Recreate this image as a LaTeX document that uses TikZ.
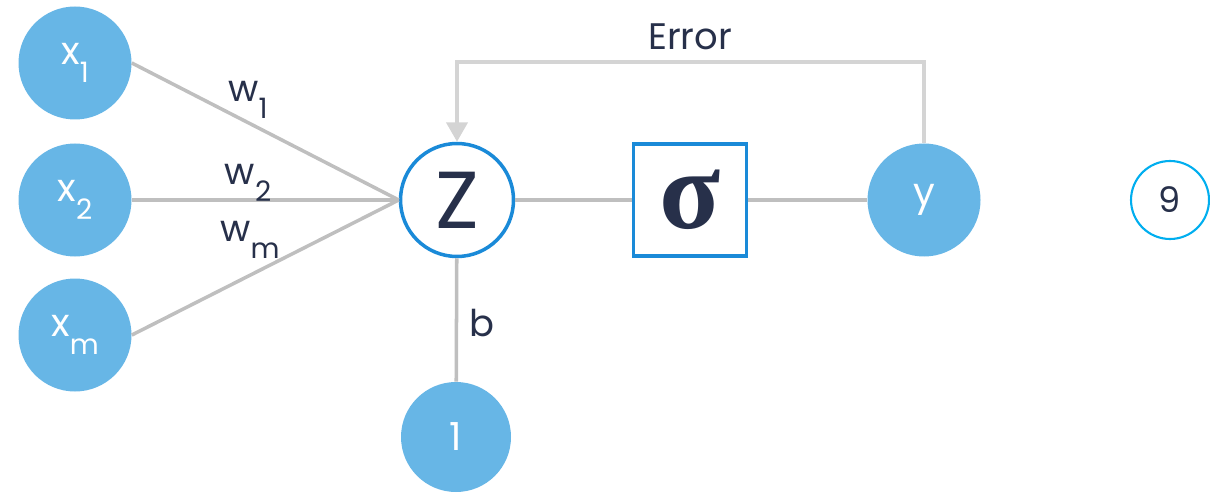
\documentclass[tikz,border=0pt]{standalone}
\usepackage{fontspec}
\setmainfont{Poppins}
\newfontfamily\greekserif{Liberation Serif}
\usepackage{xcolor}
\usepackage{tikz}
\usetikzlibrary{arrows.meta,shapes,calc}

\definecolor{neuron}{HTML}{67B6E6}
\definecolor{ink}{HTML}{27304A}
\definecolor{rim}{HTML}{1A8AD8}
\definecolor{wire}{HTML}{BFBFBF}
\definecolor{loopgray}{HTML}{D4D4D4}
\definecolor{pagenum}{HTML}{00AEEF}

\newcommand{\lowidx}[1]{\raisebox{-0.45em}{\fontsize{16}{16}\selectfont #1}}

\tikzstyle{unit}=[circle, fill=neuron, text=white,% filled input/output cells
minimum size=22.6mm, inner sep=0pt, font=\fontsize{22}{24}\selectfont]
\tikzstyle{sumnode}=[circle, draw=rim, line width=2pt, fill=white, text=ink,
minimum size=22.6mm, inner sep=0pt, font=\fontsize{46}{50}\selectfont]
\tikzstyle{actbox}=[rectangle, draw=rim, line width=2pt, text=ink,
minimum width=22.6mm, minimum height=22.4mm, inner sep=0pt,
font=\greekserif\bfseries\fontsize{64}{64}\selectfont]
\tikzstyle{wire}=[draw=wire, line width=2pt]
\tikzstyle{lbl}=[text=ink, font=\fontsize{21}{24}\selectfont]

\begin{document}
\begin{tikzpicture}
\useasboundingbox (0,0) rectangle (24.2,9.84);

% inputs
\node[unit] (x1) at (1.5,8.58) {x\lowidx{1}};
\node[unit] (x2) at (1.5,5.84) {x\lowidx{2}};
\node[unit] (xm) at (1.5,3.14) {x\lowidx{m}};

% sum, activation, output
\node[sumnode] (z) at (9.14,5.84) {Z};
\node[actbox] (sig) at (13.8,5.84) {σ};
\node[unit] (y) at (18.48,5.84) {y};
\node[unit, minimum size=22mm] (one) at (9.12,1.1) {1};

\node[circle, draw=pagenum, line width=1.2pt, minimum size=15.6mm, text=ink,
      font=\fontsize{20}{24}\selectfont] (pg) at (23.4,5.84) {9};

\draw[wire] (x1.east) -- (z.west);
\draw[wire] (x2.east) -- (z.west);
\draw[wire] (xm.east) -- (z.west);
\draw[wire] (z) -- (sig);
\draw[wire] (sig) -- (y);
\draw[wire] (z) -- (one);

% error feedback
\coordinate (eR) at (y.north |- 0,8.6);
\coordinate (eL) at (z.north |- 0,8.6);
\draw[draw=loopgray, line width=2pt, -{Triangle[width=12pt,length=11pt]}]
  (y.north) -- (eR) -- (eL) -- (z.north);

\node[lbl] (err) at (13.8,9.1) {Error};
\node[lbl] (w1) at (4.96,7.84) {w\lowidx{1}};
\node[lbl] (w2) at (4.96,6.18) {w\lowidx{2}};
\node[lbl] (wm) at (5.0,5.04) {w\lowidx{m}};
\node[lbl] (b) at (9.64,3.38) {b};
\end{tikzpicture}
\end{document}
